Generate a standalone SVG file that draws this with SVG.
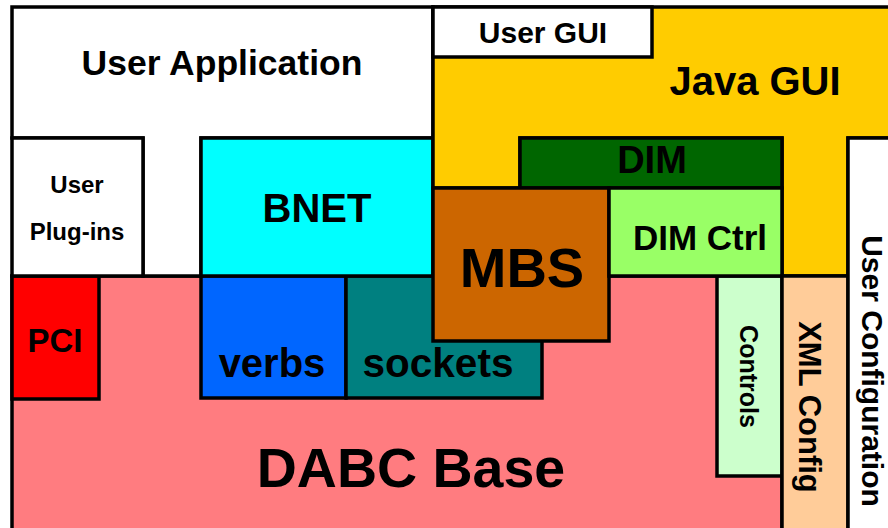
<svg xmlns="http://www.w3.org/2000/svg" width="888" height="528" viewBox="0 0 888 528">
<style>
.b{stroke:#000;stroke-width:3.5;stroke-linejoin:miter}
text{font-family:"Liberation Sans",Arial,sans-serif;font-weight:bold;fill:#000;text-anchor:middle}
</style>
<rect width="888" height="528" fill="#fff"/>
<g id="dabc-base"><rect class="b" x="12" y="276" width="770" height="262" fill="#FF7C80"/><text x="411" y="487" font-size="55.5">DABC Base</text></g>
<g id="pci"><rect class="b" x="12" y="276" width="87" height="123" fill="#FF0000"/><text x="55" y="352" font-size="33">PCI</text></g>
<g id="verbs"><rect class="b" x="201" y="276" width="145" height="122" fill="#0066FF"/><text x="272" y="377" font-size="40">verbs</text></g>
<g id="sockets"><rect class="b" x="346" y="276" width="196" height="122" fill="#008080"/><text x="438" y="377" font-size="40.5">sockets</text></g>
<g id="controls"><rect class="b" x="717" y="276" width="65" height="200" fill="#CCFFCC"/><text transform="translate(740,376.5) rotate(90)" font-size="25">Controls</text></g>
<g id="user-application"><polygon class="b" points="12,7 433,7 433,138 201,138 201,276 143,276 143,138 12,138" fill="#fff"/><text x="222" y="75" font-size="35.5">User Application</text></g>
<g id="user-plugins"><rect class="b" x="12" y="138" width="131" height="138" fill="#fff"/><text x="77" y="193" font-size="24">User</text><text x="77" y="240" font-size="24">Plug-ins</text></g>
<g id="bnet"><rect class="b" x="201" y="138" width="232" height="138" fill="#00FFFF"/><text x="317" y="222" font-size="40">BNET</text></g>
<g id="java-gui"><polygon class="b" points="433,7 895,7 895,138 848,138 848,276 782,276 782,138 520,138 520,188 433,188" fill="#FFCC00"/><text x="755" y="95" font-size="40">Java GUI</text></g>
<g id="user-gui"><rect class="b" x="433" y="7" width="219" height="50" fill="#fff"/><text x="543" y="43" font-size="30">User GUI</text></g>
<g id="dim"><rect class="b" x="520" y="138" width="262" height="50" fill="#006600"/><text x="652" y="173" font-size="38">DIM</text></g>
<g id="mbs"><rect class="b" x="433" y="188" width="176" height="153" fill="#CC6600"/><text x="522" y="287" font-size="56">MBS</text></g>
<g id="dim-ctrl"><rect class="b" x="609" y="188" width="173" height="88" fill="#99FF66"/><text x="700" y="250" font-size="35">DIM Ctrl</text></g>
<g id="xml-config"><rect class="b" x="782" y="276" width="66" height="262" fill="#FFCC99"/><text transform="translate(799,407) rotate(90)" font-size="31">XML Config</text></g>
<g id="user-configuration"><rect class="b" x="848" y="138" width="50" height="400" fill="#fff"/><text transform="translate(862,371) rotate(90)" font-size="30">User Configuration</text></g>
<g id="connectors"></g>
</svg>
